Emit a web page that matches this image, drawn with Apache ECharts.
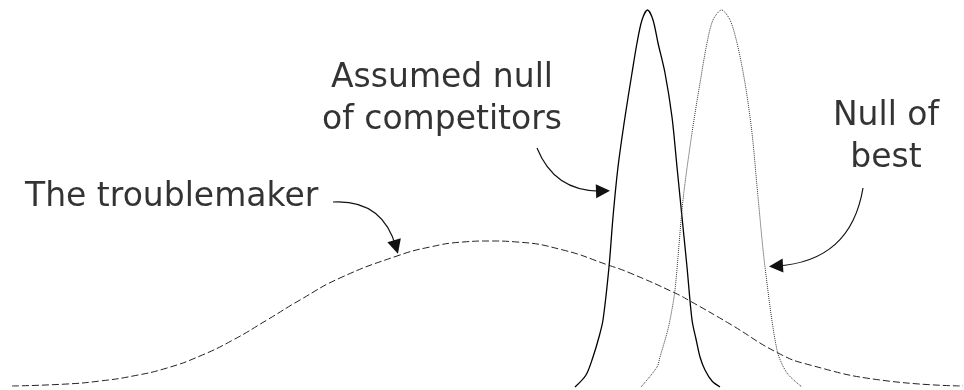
<!DOCTYPE html>
<html>
<head>
<meta charset="utf-8">
<title>Null distributions</title>
<script src="https://cdn.jsdelivr.net/npm/echarts@6/dist/echarts.min.js"></script>
<style>
  html, body { margin: 0; padding: 0; background: #fff; }
  .chart { width: 964px; height: 390px; }
</style>
</head>
<body>
<div class="chart"></div>
<script>
// 曲线数据：x 为横向位置，y 为离基线的高度
var troubleX = [12, 67, 100, 133, 167, 200, 233, 267, 300, 340, 397, 430, 463, 490, 517, 563, 608, 630, 675, 690, 730, 778, 810, 880, 963];
var troubleY = [1, 3, 6, 11, 19, 31, 47, 67, 87, 109, 131, 140, 145, 146, 145, 137, 122, 114, 94, 86, 63, 34, 22, 7, 1];

var compX = [575, 586, 593, 599, 603, 609, 613, 618, 625, 632, 637, 642, 647.5, 653, 658, 665, 672, 677, 682, 687, 692, 696, 700, 705, 712, 720];
var compY = [0, 12, 30, 50, 67, 120, 170, 220, 270, 314, 344, 367, 377, 367, 344, 314, 270, 220, 170, 120, 67, 48, 30, 17, 6, 0];

var bestX = [641, 657, 660, 667, 670, 675, 683, 692, 700, 707, 713, 721.5, 730, 737, 745, 752, 758, 765, 777, 787, 802];
var bestY = [0, 20, 30, 54, 67, 97, 187, 254, 304, 344, 367, 377, 367, 344, 304, 254, 190, 120, 37, 14, 0];

// 文字标注
var labelText = ["The troublemaker", "Assumed null\nof competitors", "Null of\nbest"];
var labelX = [25, 442, 886];
var labelY = [190, 288, 250];
var labelAlign = ["left", "center", "center"];

// 箭头：起点、终点、弯曲度
var arrowFrom = [[333, 185], [537, 239], [863, 199]];
var arrowTo = [[396, 140], [603, 196], [776, 121]];
var arrowBend = [0.4, -0.35, 0.4];

function zip (xs, ys) {
  return xs.map(function (x, i) { return [x, ys[i]]; });
}

(function () {
  var myChart = echarts.init(document.querySelector(".chart"));

  var textStyle = {
    fontFamily: "DejaVu Sans",
    fontSize: 33,
    color: "#000"
  };

  var option = {
    animation: false,
    grid: {
      left: 0,
      right: 0,
      top: 0,
      bottom: 0
    },
    xAxis: {
      type: "value",
      min: 0,
      max: 964,
      show: false
    },
    yAxis: {
      type: "value",
      min: -3,
      max: 387,
      show: false
    },
    series: [
      {
        name: "The troublemaker",
        type: "line",
        smooth: true,
        symbol: "none",
        data: zip(troubleX, troubleY),
        lineStyle: {
          color: "#222",
          width: 1,
          type: [7, 3]
        }
      },
      {
        name: "Assumed null of competitors",
        type: "line",
        smooth: 0.3,
        symbol: "none",
        data: zip(compX, compY),
        lineStyle: {
          color: "#000",
          width: 1.3
        }
      },
      {
        name: "Null of best",
        type: "line",
        smooth: 0.3,
        symbol: "none",
        data: zip(bestX, bestY),
        lineStyle: {
          color: "#333",
          width: 1,
          type: [1, 1]
        }
      },
      {
        // 弯曲箭头
        type: "lines",
        coordinateSystem: "cartesian2d",
        symbol: ["none", "triangle"],
        symbolSize: [11, 14],
        lineStyle: {
          color: "#111",
          width: 1.2,
          opacity: 1
        },
        data: arrowFrom.map(function (p, i) {
          return {
            coords: [p, arrowTo[i]],
            lineStyle: { curveness: arrowBend[i] }
          };
        })
      },
      {
        // 文字
        type: "scatter",
        symbolSize: 0,
        silent: true,
        data: labelText.map(function (t, i) {
          return {
            value: [labelX[i], labelY[i]],
            label: {
              show: true,
              formatter: t,
              position: "inside",
              align: labelAlign[i],
              verticalAlign: "middle",
              lineHeight: 42,
              fontFamily: textStyle.fontFamily,
              fontSize: textStyle.fontSize,
              color: textStyle.color
            }
          };
        })
      }
    ]
  };

  myChart.setOption(option);
  window.addEventListener("resize", function () {
    myChart.resize();
  });
})();
</script>
</body>
</html>
